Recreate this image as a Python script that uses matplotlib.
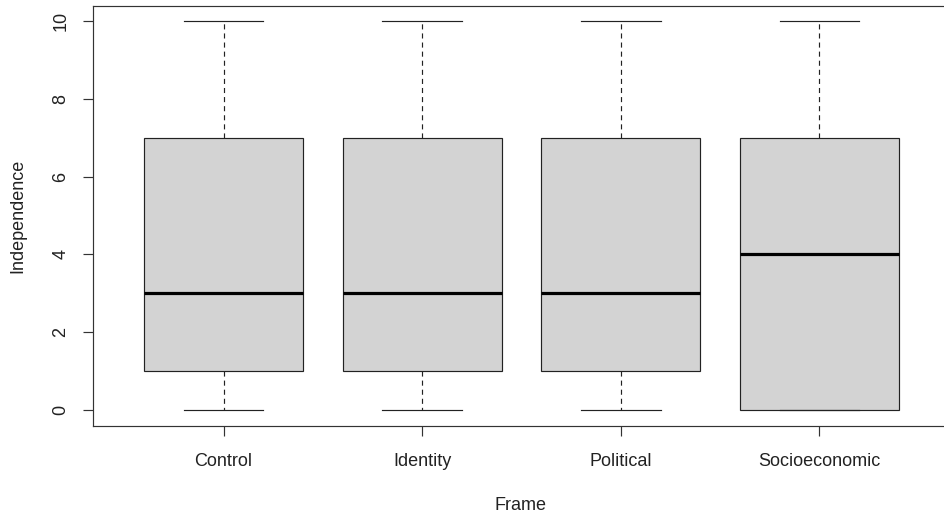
import matplotlib
matplotlib.use("Agg")
import matplotlib.pyplot as plt

plt.rcParams['font.family'] = ['Liberation Sans', 'DejaVu Sans']

categories = ["Control", "Identity", "Political", "Socioeconomic"]
whisker_low = [0, 0, 0, 0]
q1 = [1, 1, 1, 0]
medians = [3, 3, 3, 4]
q3 = [7, 7, 7, 7]
whisker_high = [10, 10, 10, 10]
y_ticks = [0, 2, 4, 6, 8, 10]

W, H = 944, 519
fig = plt.figure(figsize=(W / 100, H / 100), dpi=100)
left, right, top, bottom = 92.5, 950.5, 5.5, 425.5
ax = fig.add_axes([left / W, 1 - bottom / H, (right - left) / W, (bottom - top) / H])

stats = []
for i, c in enumerate(categories):
    stats.append(dict(label=c, whislo=whisker_low[i], q1=q1[i], med=medians[i],
                      q3=q3[i], whishi=whisker_high[i], fliers=[]))

lw = 0.85
ax.bxp(stats, positions=range(1, len(categories) + 1), widths=0.8,
       patch_artist=True, showfliers=False,
       boxprops=dict(facecolor='#D3D3D3', edgecolor='#222222', linewidth=lw),
       medianprops=dict(color='black', linewidth=2.3, solid_capstyle='butt'),
       whiskerprops=dict(color='#222222', linewidth=lw, linestyle=(0, (4.3, 3.4))),
       capprops=dict(color='#222222', linewidth=lw),
       capwidths=0.4)

ax.set_xlim(0.34, 4.66)
ax.set_ylim(-0.4, 10.4)
ax.set_yticks(y_ticks)
ax.set_yticklabels([str(v) for v in y_ticks], rotation=90, va='center')
ax.set_xticks(range(1, len(categories) + 1))
ax.set_xticklabels(categories)

for s in ax.spines.values():
    s.set_color('#333333')
    s.set_linewidth(lw)
fs = 13
ax.tick_params(axis='both', length=7.5, width=lw, color='#333333',
               labelsize=fs, labelcolor='#222222')
ax.tick_params(axis='x', pad=12.5)
ax.tick_params(axis='y', pad=9)

ax.set_xlabel("Frame", fontsize=fs, color='#222222')
ax.set_ylabel("Independence", fontsize=fs, color='#222222')
ax.xaxis.set_label_coords(521 / W, 1 - 506 / H, transform=fig.transFigure)
ax.xaxis.label.set_va('center')
ax.yaxis.set_label_coords(18 / W, 1 - 216 / H, transform=fig.transFigure)
ax.yaxis.label.set_va('center')

fig.savefig("out.png", dpi=100)
